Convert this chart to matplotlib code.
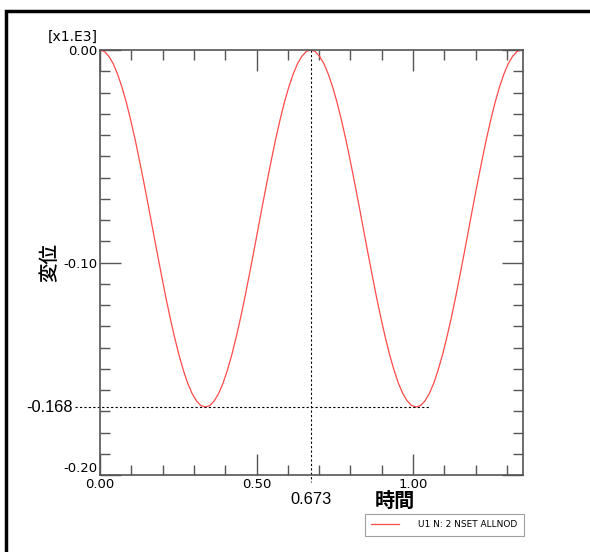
import matplotlib
matplotlib.use("Agg")
import matplotlib.pyplot as plt
from matplotlib.ticker import MultipleLocator, FixedLocator
from matplotlib.patches import Rectangle
from matplotlib.lines import Line2D

#%% Daten (Werte aus dem Bild, Einheit x1.E3)

t = [0.000, 0.014, 0.028, 0.042, 0.056, 0.070, 0.084, 0.098, 0.112, 0.126, 0.140, 0.154,
     0.168, 0.182, 0.196, 0.210, 0.224, 0.238, 0.252, 0.266, 0.280, 0.294, 0.308, 0.322,
     0.337, 0.351, 0.365, 0.379, 0.393, 0.407, 0.421, 0.435, 0.449, 0.463, 0.477, 0.491,
     0.505, 0.519, 0.533, 0.547, 0.561, 0.575, 0.589, 0.603, 0.617, 0.631, 0.645, 0.659,
     0.673, 0.687, 0.701, 0.715, 0.729, 0.743, 0.757, 0.771, 0.785, 0.799, 0.813, 0.827,
     0.841, 0.855, 0.869, 0.883, 0.897, 0.911, 0.925, 0.939, 0.953, 0.967, 0.981, 0.995,
     1.010, 1.024, 1.038, 1.052, 1.066, 1.080, 1.094, 1.108, 1.122, 1.136, 1.150, 1.164,
     1.178, 1.192, 1.206, 1.220, 1.234, 1.248, 1.262, 1.276, 1.290, 1.304, 1.318, 1.332,
     1.346]
u1 = [0.0000, -0.0007, -0.0029, -0.0064, -0.0113, -0.0174, -0.0246, -0.0329, -0.0420, -0.0519, -0.0623, -0.0730,
      -0.0840, -0.0950, -0.1057, -0.1162, -0.1260, -0.1351, -0.1434, -0.1506, -0.1568, -0.1616, -0.1651, -0.1673,
      -0.1680, -0.1673, -0.1651, -0.1616, -0.1568, -0.1506, -0.1434, -0.1351, -0.1260, -0.1162, -0.1057, -0.0950,
      -0.0840, -0.0730, -0.0623, -0.0519, -0.0420, -0.0329, -0.0246, -0.0174, -0.0113, -0.0064, -0.0029, -0.0007,
      0.0000, -0.0007, -0.0029, -0.0064, -0.0113, -0.0174, -0.0246, -0.0329, -0.0420, -0.0519, -0.0623, -0.0730,
      -0.0840, -0.0950, -0.1057, -0.1162, -0.1260, -0.1351, -0.1434, -0.1506, -0.1568, -0.1616, -0.1651, -0.1673,
      -0.1680, -0.1673, -0.1651, -0.1616, -0.1568, -0.1506, -0.1434, -0.1351, -0.1260, -0.1162, -0.1057, -0.0950,
      -0.0840, -0.0730, -0.0623, -0.0519, -0.0420, -0.0329, -0.0246, -0.0174, -0.0113, -0.0064, -0.0029, -0.0007,
      0.0000]

t_peak = 0.673
u_min = -0.168
t_min_end = 1.054
x_major = [0.0, 0.5, 1.0]
x_labels = ["0.00", "0.50", "1.00"]
y_major = [0.0, -0.1, -0.2]
y_labels = ["0.00", "-0.10", "-0.20"]
legend_text = "U1 N: 2 NSET ALLNOD"

#%% Plot

W, H = 590, 552
fig = plt.figure(figsize=(W/100, H/100), dpi=100)
ax = fig.add_axes([100/W, 1-475/H, 423/W, 425/H])

line_red = "#ff4a4a"
ax.plot(t, u1, color=line_red, lw=0.9, label=legend_text)

ax.set_xlim(0, 1.351)
ax.set_ylim(-0.2, 0.0)

ax.xaxis.set_major_locator(FixedLocator(x_major))
ax.set_xticklabels(x_labels)
ax.xaxis.set_minor_locator(MultipleLocator(0.1))
ax.yaxis.set_major_locator(FixedLocator(y_major))
ax.set_yticklabels(y_labels)
ax.yaxis.set_minor_locator(MultipleLocator(0.01))

spine_col = "#555555"
for s in ax.spines.values():
    s.set_color(spine_col)
    s.set_linewidth(1.2)
ax.tick_params(which="both", direction="in", top=True, right=True,
               color=spine_col, width=1.0, labelsize=9.5, labelcolor="black")
ax.tick_params(which="major", length=15, pad=2)
ax.tick_params(which="minor", length=7)

# -0.20 sitzt im Original etwas hoeher (unten buendig)
for lbl in ax.get_yticklabels():
    if lbl.get_text() == "-0.20":
        lbl.set_va("bottom")

# Hilfslinien
ax.plot([t_peak, t_peak], [0.0, -0.2033], ls=(0, (2, 2)), color="black", lw=0.8, clip_on=False)
ax.plot([-0.08, t_min_end], [u_min, u_min], ls=(0, (2, 2)), color="black", lw=0.8, clip_on=False)

ax.text(-0.088, u_min, "-0.168", ha="right", va="center", fontsize=11.8, family="Liberation Sans")
ax.text(t_peak, -0.2113, "0.673", ha="center", va="center", fontsize=11.8, family="Liberation Sans")
ax.text(-0.008, 0.0028, "[x1.E3]", ha="right", va="bottom", fontsize=10)

cjk = ["Noto Sans CJK JP", "DejaVu Sans"]
ax.text(-0.162, -0.1, "変位", rotation=90, ha="center", va="center", fontsize=14,
        family=cjk, fontweight="medium")
ax.text(0.942, -0.2118, "時間", ha="center", va="center", fontsize=14.5,
        family=cjk, fontweight="bold")

# Legende
h = Line2D([0], [0], color=line_red, lw=0.9)
leg = fig.legend([h], [legend_text], loc="upper right", bbox_to_anchor=(524/W, 1-514/H),
                 fontsize=6.5, frameon=True, fancybox=False, handlelength=3.0,
                 handletextpad=2.2, borderpad=0.7, borderaxespad=0)
leg.get_frame().set_edgecolor("#888888")
leg.get_frame().set_linewidth(0.8)

# Rahmen
fig.patches.append(Rectangle((6/W, -0.1), 1.2, 1.1 - 11/H, transform=fig.transFigure,
                             fill=False, edgecolor="black", lw=2.5))

fig.savefig("out.png", dpi=100)
